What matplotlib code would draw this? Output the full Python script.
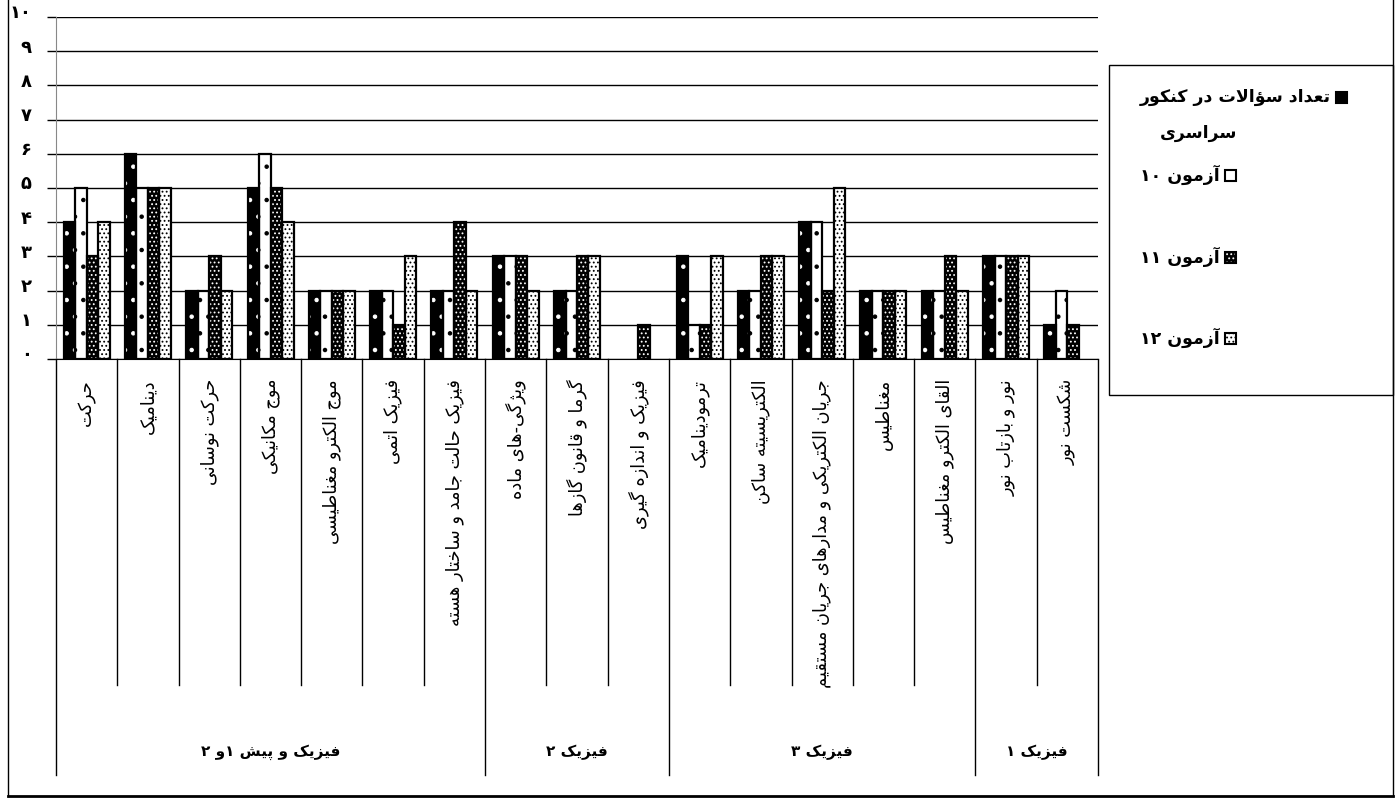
import matplotlib
matplotlib.use('Agg')
import matplotlib.pyplot as plt
from matplotlib.patches import Rectangle
from matplotlib.lines import Line2D
import matplotlib.transforms as mtransforms
import numpy as np

# --- data ---
categories = [
    'حرکت', 'دینامیک', 'حرکت نوسانی', 'موج مکانیکی', 'موج الکترو مغناطیسی',
    'فیزیک اتمی', 'فیزیک حالت جامد و ساختار هسته',
    'ویژگی-های ماده', 'گرما و قانون گازها', 'فیزیک و اندازه گیری',
    'ترمودینامیک', 'الکتریسیته ساکن', 'جریان الکتریکی و مدارهای جریان مستقیم',
    'مغناطیس', 'القای الکترو مغناطیس',
    'نور و بازتاب نور', 'شکست نور',
]
groups = ['فیزیک و پیش ۱و ۲', 'فیزیک ۲', 'فیزیک ۳', 'فیزیک ۱']
group_sizes = [7, 3, 5, 2]

konkur = [4, 6, 2, 5, 2, 2, 2, 3, 2, 0, 3, 2, 4, 2, 2, 3, 1]
azmoon10 = [5, 5, 2, 6, 2, 2, 2, 3, 2, 0, 1, 2, 4, 2, 2, 3, 2]
azmoon11 = [3, 5, 3, 5, 2, 1, 4, 3, 3, 1, 1, 3, 2, 2, 3, 3, 1]
azmoon12 = [4, 5, 2, 4, 2, 3, 2, 2, 3, 0, 3, 3, 5, 2, 2, 3, 0]

series_names = ['تعداد سؤالات در کنکور', 'آزمون ۱۰', 'آزمون ۱۱', 'آزمون ۱۲']
series_name_line2 = 'سراسری'
y_ticks = list(range(11))
y_tick_labels = ['۰', '۱', '۲', '۳', '۴', '۵', '۶', '۷', '۸', '۹', '۱۰']

# --- simple arabic/persian shaping (no raqm in matplotlib) ---
JOIN = {
    'ء': (0xFE80, 'U'), 'آ': (0xFE81, 'R'), 'أ': (0xFE83, 'R'), 'ؤ': (0xFE85, 'R'),
    'إ': (0xFE87, 'R'), 'ئ': (0xFE89, 'D'), 'ا': (0xFE8D, 'R'), 'ب': (0xFE8F, 'D'),
    'ة': (0xFE93, 'R'), 'ت': (0xFE95, 'D'), 'ث': (0xFE99, 'D'), 'ج': (0xFE9D, 'D'),
    'ح': (0xFEA1, 'D'), 'خ': (0xFEA5, 'D'), 'د': (0xFEA9, 'R'), 'ذ': (0xFEAB, 'R'),
    'ر': (0xFEAD, 'R'), 'ز': (0xFEAF, 'R'), 'س': (0xFEB1, 'D'), 'ش': (0xFEB5, 'D'),
    'ص': (0xFEB9, 'D'), 'ض': (0xFEBD, 'D'), 'ط': (0xFEC1, 'D'), 'ظ': (0xFEC5, 'D'),
    'ع': (0xFEC9, 'D'), 'غ': (0xFECD, 'D'), 'ف': (0xFED1, 'D'), 'ق': (0xFED5, 'D'),
    'ل': (0xFEDD, 'D'), 'م': (0xFEE1, 'D'), 'ن': (0xFEE5, 'D'), 'ه': (0xFEE9, 'D'),
    'و': (0xFEED, 'R'), 'پ': (0xFB56, 'D'), 'چ': (0xFB7A, 'D'), 'ژ': (0xFB8A, 'R'),
    'ک': (0xFB8E, 'D'), 'گ': (0xFB92, 'D'), 'ی': (0xFBFC, 'D'),
}
LAMALEF = {'آ': 0xFEF5, 'أ': 0xFEF7, 'إ': 0xFEF9, 'ا': 0xFEFB}
DIGITS = set('۰۱۲۳۴۵۶۷۸۹0123456789')


def jtype(c):
    return JOIN[c][1] if c in JOIN else None


def fa(text):
    text = text.replace('ي', 'ی').replace('ك', 'ک')
    ch = list(text)
    out = []
    i = 0
    while i < len(ch):
        c = ch[i]
        if c not in JOIN:
            out.append(c)
            i += 1
            continue
        prev = ch[i - 1] if i > 0 else None
        jprev = prev is not None and jtype(prev) == 'D' and jtype(c) in ('D', 'R')
        if c == 'ل' and i + 1 < len(ch) and ch[i + 1] in LAMALEF:
            out.append(chr(LAMALEF[ch[i + 1]] + (1 if jprev else 0)))
            i += 2
            continue
        nxt = ch[i + 1] if i + 1 < len(ch) else None
        jnext = jtype(c) == 'D' and nxt is not None and jtype(nxt) in ('D', 'R')
        base = JOIN[c][0]
        if jprev and jnext:
            out.append(chr(base + 3))
        elif jprev:
            out.append(chr(base + 1))
        elif jnext:
            out.append(chr(base + 2))
        else:
            out.append(chr(base))
        i += 1
    # visual order: right to left, digit runs stay left to right
    runs = []
    for c in out:
        isd = c in DIGITS
        if runs and runs[-1][0] == isd:
            runs[-1][1].append(c)
        else:
            runs.append([isd, [c]])
    vis = ''
    for isd, r in reversed(runs):
        vis += ''.join(r) if isd else ''.join(reversed(r))
    return vis


plt.rcParams['font.family'] = ['DejaVu Sans']
plt.rcParams['hatch.linewidth'] = 0.8

W, H = 1395, 799
fig = plt.figure(figsize=(W / 100, H / 100), dpi=100)
fig.patch.set_facecolor('white')

# axes box in pixels
x0, x1, ytop, ybot = 56, 1098, 17, 359
ax = fig.add_axes([x0 / W, 1 - ybot / H, (x1 - x0) / W, (ybot - ytop) / H])

n = len(categories)
x = np.arange(n)
w = 0.1875
styles = [
    ('black', 'white', '.'),
    ('white', 'black', '.'),
    ('black', 'white', '....'),
    ('white', 'black', '....'),
]
all_series = [konkur, azmoon10, azmoon11, azmoon12]
for k, (vals, (fc, hc, hatch)) in enumerate(zip(all_series, styles)):
    vals = np.array(vals)
    pos = x + (k - 1.5) * w
    keep = vals > 0
    ax.bar(pos[keep], vals[keep], width=w, color=fc, edgecolor=hc, hatch=hatch, linewidth=0, zorder=3)
    ax.bar(pos[keep], vals[keep], width=w, facecolor='none', edgecolor='black', linewidth=1.6, zorder=4)

ax.set_xlim(-0.5, n - 0.5)
ax.set_ylim(0, 10)
ax.set_yticks(y_ticks)
ax.set_yticklabels(y_tick_labels, fontsize=13, fontweight='bold')
ax.tick_params(axis='y', length=6.5, width=1, color='black', pad=11)
ax.set_xticks([])
ax.yaxis.grid(True, color='black', linewidth=1)
ax.set_axisbelow(True)
for s in ['top', 'right']:
    ax.spines[s].set_visible(False)
ax.spines['left'].set_color('#888888')
ax.spines['bottom'].set_color('black')

# tick labels sit slightly above the grid lines
off = mtransforms.ScaledTranslation(0, 4 / 72, fig.dpi_scale_trans)
for lab in ax.get_yticklabels():
    lab.set_transform(lab.get_transform() + off)

# category lines and labels below the axis
trans = ax.get_xaxis_transform()
axh = ybot - ytop
cat_bottom = -(685 - ybot) / axh
grp_bottom = -(775 - ybot) / axh
edges = np.concatenate([[0], np.cumsum(group_sizes)]) - 0.5
for b in np.arange(n + 1) - 0.5:
    yb = grp_bottom if b in edges else cat_bottom
    ax.add_line(Line2D([b, b], [0, yb], transform=trans, color='black', linewidth=1, clip_on=False))
for i, c in enumerate(categories):
    ax.text(i, -(379 - ybot) / axh, fa(c), transform=trans, rotation=90,
            ha='center', va='top', fontsize=12.8)
for g, lo, hi in zip(groups, edges[:-1], edges[1:]):
    ax.text((lo + hi) / 2, -(752 - ybot) / axh, fa(g), transform=trans,
            ha='center', va='center', fontsize=11, fontweight='bold')

# legend (drawn by hand): text first, marker right after it
lx0, lx1, ly0, ly1 = 1109, 1393, 65, 395
fig.add_artist(Rectangle((lx0 / W, 1 - ly1 / H), (lx1 - lx0) / W, (ly1 - ly0) / H,
                         transform=fig.transFigure, facecolor='white', edgecolor='black', linewidth=1))
renderer = fig.canvas.get_renderer()
ent_y = [97, 175, 257, 338]
ms = 11
for (fc, hc, hatch), name, ey in zip(styles, series_names, ent_y):
    t = fig.text(1140 / W, 1 - ey / H, fa(name), ha='left', va='center', fontsize=12.5, fontweight='bold')
    bb = t.get_window_extent(renderer=renderer)
    mx, my = (bb.x1 + 5) / W, 1 - (ey + ms / 2) / H
    fig.add_artist(Rectangle((mx, my), ms / W, ms / H, transform=fig.transFigure,
                             facecolor=fc, edgecolor=hc, hatch=hatch, linewidth=0))
    fig.add_artist(Rectangle((mx, my), ms / W, ms / H, transform=fig.transFigure,
                             facecolor='none', edgecolor='black', linewidth=1.5))
fig.text(1160 / W, 1 - 133 / H, fa(series_name_line2), ha='left', va='center', fontsize=12.5, fontweight='bold')

# outer frame
fig.add_artist(Line2D([8 / W, 8 / W], [1, 1 - 796 / H], transform=fig.transFigure, color='black', linewidth=1))
fig.add_artist(Line2D([8 / W, 1393 / W], [1 - 796 / H, 1 - 796 / H], transform=fig.transFigure, color='black', linewidth=2))
fig.add_artist(Line2D([1393 / W, 1393 / W], [1, 1 - 796 / H], transform=fig.transFigure, color='black', linewidth=1))

fig.savefig('out.png', dpi=100, facecolor='white')
